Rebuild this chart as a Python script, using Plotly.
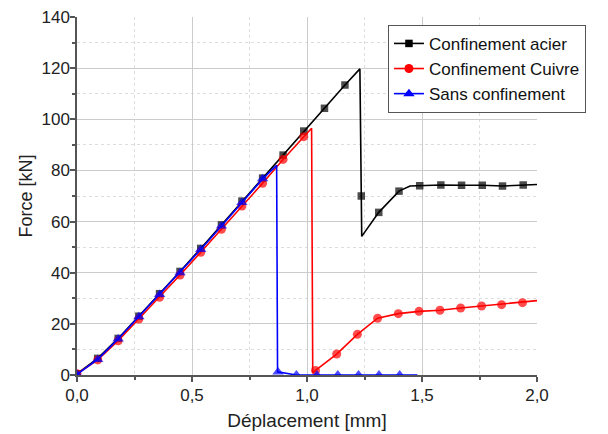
import plotly.graph_objects as go

# ---------------- data ----------------
# Confinement acier (black)
acier_x = [0.0, 0.09, 0.179, 0.269, 0.359, 0.448, 0.538, 0.628, 0.717, 0.807, 0.896, 0.986, 1.076, 1.165,
           1.230, 1.236, 1.238, 1.312, 1.400, 1.448, 1.490, 1.582, 1.672, 1.762, 1.850, 1.940, 2.0]
acier_y = [0.5, 6.5, 14.3, 23.0, 31.8, 40.5, 49.5, 58.7, 68.0, 77.0, 86.0, 95.4, 104.3, 113.4,
           119.7, 70.0, 54.2, 63.6, 71.9, 73.9, 74.0, 74.3, 74.2, 74.2, 73.9, 74.3, 74.5]
acier_unmarked = [14, 16, 19, 26]

# Confinement Cuivre (red)
cuivre_x = [0.0, 0.09, 0.179, 0.269, 0.359, 0.448, 0.538, 0.628, 0.717, 0.807, 0.896, 0.986,
            1.020, 1.025, 1.037, 1.129, 1.219, 1.307, 1.397, 1.487, 1.578, 1.668, 1.759, 1.846, 1.937, 2.0]
cuivre_y = [0.5, 5.9, 13.4, 21.9, 30.4, 39.1, 48.0, 57.0, 66.1, 75.0, 84.3, 93.2,
            96.5, 0.8, 1.8, 8.2, 15.9, 22.2, 24.0, 24.9, 25.3, 26.2, 27.0, 27.5, 28.3, 29.1]
cuivre_unmarked = [12, 13, 25]

# Sans confinement (blue)
sans_x = [0.0, 0.09, 0.179, 0.269, 0.359, 0.448, 0.538, 0.628, 0.717, 0.807,
          0.868, 0.872, 0.874, 0.954, 1.043, 1.134, 1.224, 1.313, 1.403, 1.480]
sans_y = [0.3, 6.1, 14.1, 22.8, 31.5, 40.0, 49.1, 58.3, 67.5, 76.7,
          82.0, 1.0, 1.2, 0.0, 0.0, 0.0, 0.0, 0.0, 0.0, 0.0]
sans_unmarked = [10, 11, 19]

series_names = ["Confinement acier", "Confinement Cuivre", "Sans confinement"]

x_tick_vals = [0.0, 0.5, 1.0, 1.5, 2.0]
y_tick_vals = [0, 20, 40, 60, 80, 100, 120, 140]

# ---------------- figure ----------------
styles = [
    dict(color="#000000", symbol="square", size=7.5),
    dict(color="#ff0000", symbol="circle", size=9),
    dict(color="#0000ff", symbol="triangle-up", size=10),
]
datasets = [(acier_x, acier_y, acier_unmarked),
            (cuivre_x, cuivre_y, cuivre_unmarked),
            (sans_x, sans_y, sans_unmarked)]

fig = go.Figure()
for (xs, ys, unmarked), st, name in zip(datasets, styles, series_names):
    sizes = [0 if i in unmarked else st["size"] for i in range(len(xs))]
    fig.add_trace(go.Scatter(
        x=xs, y=ys, mode="lines+markers", showlegend=False,
        line=dict(color=st["color"], width=1.6),
        marker=dict(color=st["color"], symbol=st["symbol"], size=sizes, line=dict(width=0)),
        cliponaxis=True,
    ))
    # legend entry
    fig.add_trace(go.Scatter(
        x=[None], y=[None], mode="lines+markers", name=name,
        line=dict(color=st["color"], width=1.6),
        marker=dict(color=st["color"], symbol=st["symbol"], size=st["size"]),
    ))

font_family = "Liberation Sans, Arial, sans-serif"
fig.update_layout(
    width=608, height=434,
    margin=dict(l=77, r=71, t=17, b=59),
    paper_bgcolor="white", plot_bgcolor="white",
    separators=", ",
    font=dict(family=font_family, size=17, color="#222222"),
    legend=dict(
        x=0.676, y=0.978, xanchor="left", yanchor="top",
        bgcolor="white", bordercolor="#555555", borderwidth=1,
        font=dict(size=17, color="#111111"),
        tracegroupgap=0,
    ),
    xaxis=dict(
        range=[0, 2.0], tickvals=x_tick_vals, tickformat=".1f", automargin=False,
        showline=True, linecolor="#555555", linewidth=1.5,
        ticks="outside", ticklen=5, tickcolor="#555555", tickwidth=1.5,
        ticklabelstandoff=-1,
        showgrid=True, gridcolor="#cccccc", gridwidth=1,
        zeroline=False,
        minor=dict(dtick=0.25, ticks="outside", ticklen=3, tickcolor="#555555",
                   showgrid=True, gridcolor="#dddddd", griddash="dot", gridwidth=1),
        title=dict(text="Déplacement [mm]", font=dict(size=19), standoff=10),
    ),
    yaxis=dict(
        range=[0, 140], tickvals=y_tick_vals, automargin=False,
        showline=True, linecolor="#555555", linewidth=1.5,
        ticks="outside", ticklen=5, tickcolor="#555555", tickwidth=1.5,
        ticklabelstandoff=-3, ticklabeloverflow="allow",
        showgrid=True, gridcolor="#cccccc", gridwidth=1,
        zeroline=False,
        minor=dict(dtick=10, ticks="outside", ticklen=3, tickcolor="#555555",
                   showgrid=True, gridcolor="#dddddd", griddash="dot", gridwidth=1),
        title=dict(text="Force [kN]", font=dict(size=18), standoff=4),
    ),
)

# remove the browser's default 8px body margin so the figure sits at (0, 0)
fig.write_html("out.html", config={"displayModeBar": False},
               post_script="document.body.style.margin='0';")
